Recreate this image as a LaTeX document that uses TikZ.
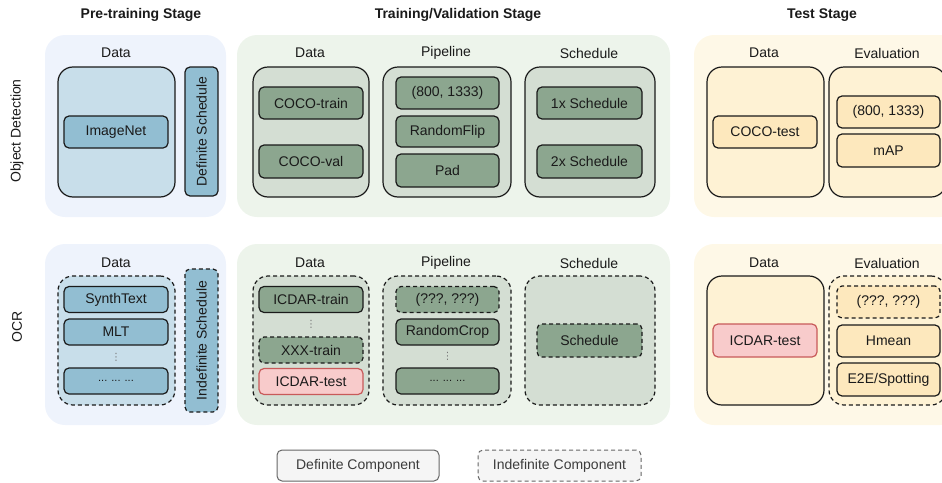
\documentclass[tikz,border=0pt]{standalone}
\usepackage{fontspec}
\setmainfont{Liberation Sans}
\newfontfamily\symfont{DejaVu Sans}
\definecolor{ink}{HTML}{1A1A1A}
\definecolor{bluepanel}{HTML}{EEF3FC}
\definecolor{bluebox}{HTML}{C8DEEA}
\definecolor{blueitem}{HTML}{92BED2}
\definecolor{greenpanel}{HTML}{EDF4EB}
\definecolor{greenbox}{HTML}{D4DED3}
\definecolor{greenitem}{HTML}{8CA68F}
\definecolor{yellowpanel}{HTML}{FEF8E7}
\definecolor{yellowbox}{HTML}{FEF2D4}
\definecolor{yellowitem}{HTML}{FDE8BD}
\definecolor{redfill}{HTML}{F8CBCB}
\definecolor{redline}{HTML}{C85A5A}
\definecolor{legendfill}{HTML}{F5F5F5}
\definecolor{legendline}{HTML}{666666}
\begin{document}
\begin{tikzpicture}[x=1pt,y=-1pt,
  txt/.style={font=\fontsize{14}{17}\selectfont, text=ink, inner sep=0pt},
  heading/.style={txt, font=\fontsize{14}{17}\selectfont\bfseries},
  panel/.style={rounded corners=20pt, inner sep=0pt},
  group/.style={draw=ink, line width=1.2pt, rounded corners=15pt, inner sep=0pt},
  item/.style={txt, draw=ink, line width=1.2pt, rounded corners=5pt},
  unsure/.style={dash pattern=on 4pt off 3pt},
  redbox/.style={item, fill=redfill, draw=redline},
  dots/.style={inner sep=0pt, text=ink!60, font=\symfont\fontsize{10}{10}\selectfont},
  legend/.style={txt, draw=legendline, fill=legendfill, line width=1pt, rounded corners=5pt, text=ink!85}
]
\useasboundingbox (0,0) rectangle (942,482);
\clip (0,0) rectangle (942,482);

% stage titles
\node[heading] (tpre) at (141,15) {Pre-training Stage};
\node[heading] (ttrain) at (458,15) {Training/Validation Stage};
\node[heading] (ttest) at (822,15) {Test Stage};

% row titles
\node[txt, rotate=90] (rod) at (17,131) {Object Detection};
\node[txt, rotate=90] (rocr) at (17,327) {OCR};

% ---------- object detection row ----------
% pre-training
\node[panel, fill=bluepanel, minimum width=181pt, minimum height=182pt] (odpre) at (135.5,126) {};
\node[txt] (odpredl) at (116,53) {Data};
\node[group, fill=bluebox, minimum width=117pt, minimum height=130pt] (odpredata) at (116.5,132) {};
\node[item, fill=blueitem, minimum width=104pt, minimum height=32pt] (imagenet) at (116,132) {ImageNet};
\node[item, fill=blueitem, rotate=90, minimum width=129pt, minimum height=33pt] (defsched) at (201.5,131.5) {Definite Schedule};

% training / validation
\node[panel, fill=greenpanel, minimum width=433pt, minimum height=182pt] (odtrain) at (453.5,126) {};
\node[txt] (odtraindl) at (310,53) {Data};
\node[txt] (odpipel) at (446,53) {Pipeline};
\node[txt] (odschedl) at (589,53) {Schedule};
\node[group, fill=greenbox, minimum width=116pt, minimum height=130pt] (odtraindata) at (311,132) {};
\node[group, fill=greenbox, minimum width=128pt, minimum height=130pt] (odpipe) at (447,132) {};
\node[group, fill=greenbox, minimum width=130pt, minimum height=130pt] (odsched) at (590,132) {};
\node[item, fill=greenitem, minimum width=104pt, minimum height=32pt] (cocotrain) at (311,103) {COCO-train};
\node[item, fill=greenitem, minimum width=104pt, minimum height=33pt] (cocoval) at (311,161.5) {COCO-val};
\node[item, fill=greenitem, minimum width=103pt, minimum height=32pt] (odscale) at (447.5,93) {(800, 1333)};
\node[item, fill=greenitem, minimum width=103pt, minimum height=31pt] (flip) at (447.5,131.5) {RandomFlip};
\node[item, fill=greenitem, minimum width=103pt, minimum height=33pt] (pad) at (447.5,170.5) {Pad};
\node[item, fill=greenitem, minimum width=105pt, minimum height=32pt] (onex) at (589.5,103) {1x Schedule};
\node[item, fill=greenitem, minimum width=105pt, minimum height=33pt] (twox) at (589.5,161.5) {2x Schedule};

% test
\node[panel, fill=yellowpanel, minimum width=266pt, minimum height=182pt] (odtest) at (827,126) {};
\node[txt] (odtestdl) at (764,53) {Data};
\node[txt] (odevall) at (887,53) {Evaluation};
\node[group, fill=yellowbox, minimum width=117pt, minimum height=130pt] (odtestdata) at (765.5,132) {};
\node[group, fill=yellowbox, minimum width=117pt, minimum height=130pt] (odeval) at (887.5,132) {};
\node[item, fill=yellowitem, minimum width=104pt, minimum height=32pt] (cocotest) at (765,132) {COCO-test};
\node[item, fill=yellowitem, minimum width=103pt, minimum height=32pt] (odevscale) at (888.5,112) {(800, 1333)};
\node[item, fill=yellowitem, minimum width=103pt, minimum height=33pt] (map) at (888.5,150.5) {mAP};

% ---------- OCR row ----------
% pre-training
\node[panel, fill=bluepanel, minimum width=181pt, minimum height=181pt] (ocrpre) at (135.5,334.5) {};
\node[txt] (ocrpredl) at (116,263) {Data};
\node[group, unsure, fill=bluebox, minimum width=117pt, minimum height=129pt] (ocrpredata) at (116.5,340.5) {};
\node[item, fill=blueitem, minimum width=104pt, minimum height=26pt] (synth) at (116,299.5) {SynthText};
\node[item, fill=blueitem, minimum width=104pt, minimum height=26pt] (mlt) at (116,332) {MLT};
\node[dots] (predots) at (116,357) {⋮};
\node[item, fill=blueitem, minimum width=104pt, minimum height=26pt] (premore) at (116,381) {\fontsize{11}{13}\selectfont ... ... ...};
\node[item, unsure, fill=blueitem, rotate=90, minimum width=143pt, minimum height=33pt] (indefsched) at (201.5,340.5) {Indefinite Schedule};

% training / validation
\node[panel, fill=greenpanel, minimum width=433pt, minimum height=181pt] (ocrtrain) at (453.5,334.5) {};
\node[txt] (ocrtraindl) at (310,263) {Data};
\node[txt] (ocrpipel) at (446,263) {Pipeline};
\node[txt] (ocrschedl) at (589,263) {Schedule};
\node[group, unsure, fill=greenbox, minimum width=116pt, minimum height=129pt] (ocrtraindata) at (311,340.5) {};
\node[group, unsure, fill=greenbox, minimum width=128pt, minimum height=129pt] (ocrpipe) at (447,340.5) {};
\node[group, unsure, fill=greenbox, minimum width=130pt, minimum height=129pt] (ocrsched) at (590,340.5) {};
\node[item, fill=greenitem, minimum width=104pt, minimum height=26pt] (icdartrain) at (311,299.5) {ICDAR-train};
\node[dots] (traindots) at (311,324.5) {⋮};
\node[item, unsure, fill=greenitem, minimum width=104pt, minimum height=26pt] (xxxtrain) at (311,350) {XXX-train};
\node[redbox, minimum width=104pt, minimum height=26pt] (icdarval) at (311,381.5) {ICDAR-test};
\node[item, unsure, fill=greenitem, minimum width=103pt, minimum height=26pt] (ocrscale) at (447.5,299.5) {(???, ???)};
\node[item, fill=greenitem, minimum width=103pt, minimum height=26pt] (crop) at (447.5,332) {RandomCrop};
\node[dots] (pipedots) at (447.5,356.5) {⋮};
\node[item, fill=greenitem, minimum width=103pt, minimum height=26pt] (pipemore) at (447.5,381) {\fontsize{11}{13}\selectfont ... ... ...};
\node[item, unsure, fill=greenitem, minimum width=105pt, minimum height=33pt] (ocrschedule) at (589.5,340.5) {Schedule};

% test
\node[panel, fill=yellowpanel, minimum width=266pt, minimum height=181pt] (ocrtest) at (827,334.5) {};
\node[txt] (ocrtestdl) at (764,263) {Data};
\node[txt] (ocrevall) at (887,263) {Evaluation};
\node[group, fill=yellowbox, minimum width=117pt, minimum height=129pt] (ocrtestdata) at (765.5,340.5) {};
\node[group, unsure, fill=yellowbox, minimum width=117pt, minimum height=129pt] (ocreval) at (887.5,340.5) {};
\node[redbox, minimum width=104pt, minimum height=33pt] (icdartest) at (765,340.5) {ICDAR-test};
\node[item, unsure, fill=yellowitem, minimum width=103pt, minimum height=32pt] (ocrevscale) at (888.5,302) {(???, ???)};
\node[item, fill=yellowitem, minimum width=103pt, minimum height=32pt] (hmean) at (888.5,341) {Hmean};
\node[item, fill=yellowitem, minimum width=103pt, minimum height=33pt] (e2e) at (888.5,379.5) {E2E/Spotting};

% ---------- legend ----------
\node[legend, minimum width=162pt, minimum height=31pt] (ldef) at (358,465.5) {Definite Component};
\node[legend, unsure, minimum width=163pt, minimum height=31pt] (lindef) at (559.5,465.5) {Indefinite Component};
\end{tikzpicture}
\end{document}
